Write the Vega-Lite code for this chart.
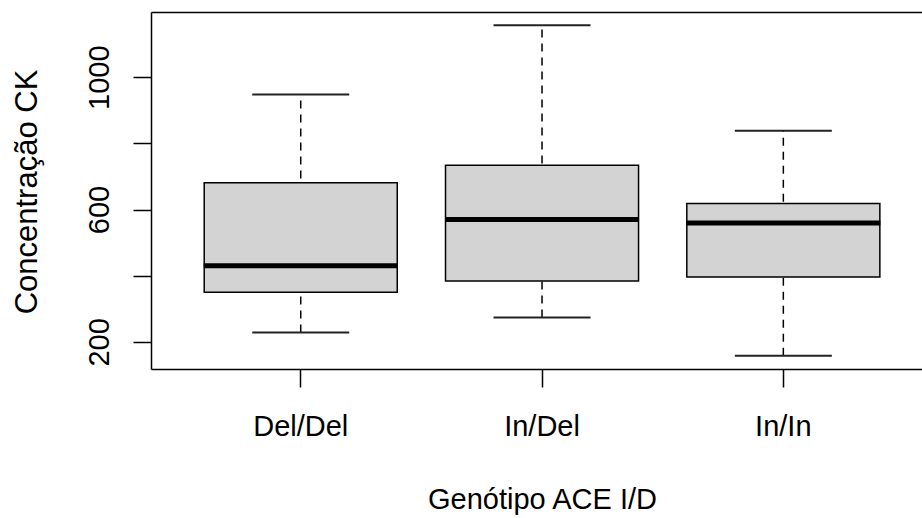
{
  "$schema": "https://vega.github.io/schema/vega-lite/v6.json",
  "usermeta": {"embedOptions": {"actions": false}},
  "autosize": {"type": "none"},
  "padding": {"left": 151, "top": 12, "right": 0, "bottom": 149},
  "width": 771,
  "height": 357,
  "background": "white",
  "data": {
    "values": [
      {"g": "Del/Del", "lower": 228, "q1": 350, "median": 430, "q3": 681, "upper": 948},
      {"g": "In/Del", "lower": 274, "q1": 384, "median": 570, "q3": 734, "upper": 1157},
      {"g": "In/In", "lower": 158, "q1": 396, "median": 559, "q3": 618, "upper": 838}
    ]
  },
  "resolve": {"axis": {"x": "independent"}},
  "layer": [
    {
      "mark": {"type": "rule", "strokeDash": [8, 6], "strokeWidth": 1.5, "color": "black"},
      "encoding": {
        "x": {
          "field": "g", "type": "nominal", "sort": null,
          "scale": {"type": "band", "paddingInner": 0.2, "paddingOuter": 0.1976, "align": 0.558},
          "axis": {
            "orient": "bottom", "title": "Genótipo ACE I/D", "labelAngle": 0,
            "tickSize": 18, "labelPadding": 48, "labelBaseline": "alphabetic",
            "titleBaseline": "alphabetic", "titleX": 391, "titleY": 139, "titleAlign": "center", "titleAnchor": null
          }
        },
        "y": {
          "field": "lower", "type": "quantitative",
          "scale": {"domain": [118, 1197], "nice": false, "zero": false},
          "axis": {
            "title": "Concentração CK", "values": [200, 400, 600, 800, 1000],
            "labelExpr": "datum.value == 400 || datum.value == 800 ? '' : format(datum.value, 'd')",
            "labelAngle": -90, "labelAlign": "center", "labelBaseline": "alphabetic",
            "tickSize": 18, "labelPadding": 25, "grid": false,
            "titleAngle": -90, "titleBaseline": "alphabetic", "titleAlign": "center",
            "titleFontSize": 31, "titleX": -115, "titleY": 179.5, "titleAnchor": null
          }
        },
        "y2": {"field": "upper"}
      }
    },
    {
      "mark": {"type": "tick", "size": 97, "thickness": 2, "color": "#222222", "opacity": 1},
      "encoding": {
        "x": {"field": "g", "type": "nominal", "sort": null, "axis": null},
        "y": {"field": "lower", "type": "quantitative", "title": "Concentração CK"}
      }
    },
    {
      "mark": {"type": "tick", "size": 97, "thickness": 2, "color": "#222222", "opacity": 1},
      "encoding": {
        "x": {"field": "g", "type": "nominal", "sort": null, "axis": null},
        "y": {"field": "upper", "type": "quantitative", "title": "Concentração CK"}
      }
    },
    {
      "mark": {"type": "bar", "fill": "#D3D3D3", "stroke": "black", "strokeWidth": 1.5, "opacity": 1},
      "encoding": {
        "x": {"field": "g", "type": "nominal", "sort": null, "axis": null},
        "y": {"field": "q1", "type": "quantitative", "title": "Concentração CK"},
        "y2": {"field": "q3"}
      }
    },
    {
      "mark": {"type": "tick", "size": 194, "thickness": 5, "color": "black", "opacity": 1},
      "encoding": {
        "x": {
          "field": "g", "type": "nominal", "sort": null,
          "axis": {"orient": "top", "labels": false, "ticks": false, "title": null, "domain": true}
        },
        "y": {"field": "median", "type": "quantitative", "title": "Concentração CK"}
      }
    }
  ],
  "config": {
    "view": {"stroke": null},
    "axis": {
      "labelFont": "Liberation Sans", "labelFontSize": 29, "labelColor": "black",
      "titleFont": "Liberation Sans", "titleFontSize": 29, "titleFontWeight": "normal", "titleColor": "black",
      "domainColor": "black", "domainWidth": 1.5, "tickColor": "black", "tickWidth": 1.5,
      "grid": false, "labelOverlap": false, "labelFlush": false
    }
  }
}
